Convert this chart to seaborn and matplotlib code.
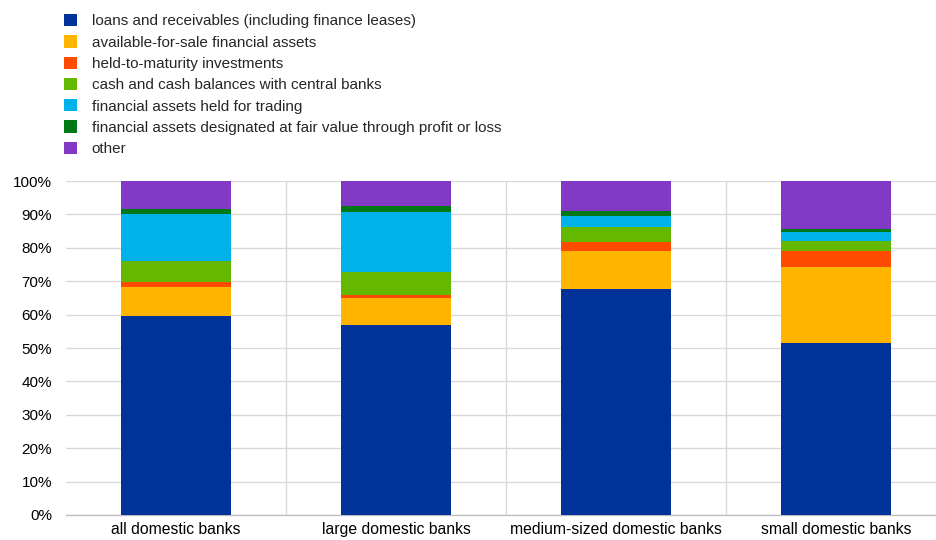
import matplotlib
matplotlib.use("Agg")
import matplotlib.pyplot as plt
from matplotlib.patches import Patch
from matplotlib.ticker import FixedLocator
import numpy as np
import seaborn as sns

categories = ["all domestic banks", "large domestic banks",
              "medium-sized domestic banks", "small domestic banks"]

series_names = [
    "loans and receivables (including finance leases)",
    "available-for-sale financial assets",
    "held-to-maturity investments",
    "cash and cash balances with central banks",
    "financial assets held for trading",
    "financial assets designated at fair value through profit or loss",
    "other",
]

loans = [59.6, 56.8, 67.8, 51.5]
available_for_sale = [8.8, 8.2, 11.2, 22.8]
held_to_maturity = [1.4, 0.8, 2.7, 4.7]
cash_balances = [6.1, 6.9, 4.4, 3.1]
held_for_trading = [14.3, 17.9, 3.5, 2.6]
fair_value = [1.5, 1.9, 1.5, 1.0]
other = [8.3, 7.5, 8.9, 14.3]

series_values = [loans, available_for_sale, held_to_maturity, cash_balances,
                 held_for_trading, fair_value, other]

colors = ["#003299", "#FFB400", "#FF4B00", "#65B800",
          "#00B1EA", "#007816", "#8139C6"]

yticks = [0, 10, 20, 30, 40, 50, 60, 70, 80, 90, 100]
ytick_labels = [f"{v}%" for v in yticks]

sns.set_theme(style="white")
plt.rcParams["font.family"] = ["Liberation Sans", "DejaVu Sans"]

fig = plt.figure(figsize=(9.36, 5.4), dpi=100)
ax = fig.add_axes([66 / 936, 25 / 540, 880 / 936, 334 / 540])

bottom = np.zeros(len(categories))
for name, vals, col in zip(series_names, series_values, colors):
    sns.barplot(x=categories, y=vals, bottom=bottom, color=col,
                width=0.5, ax=ax, saturation=1, linewidth=0, zorder=3)
    bottom = bottom + np.array(vals)

ax.set_xlim(-0.5, 3.5)
ax.set_ylim(0, 100)
ax.set_yticks(yticks)
ax.set_yticklabels(ytick_labels)
ax.xaxis.set_minor_locator(FixedLocator([0.5, 1.5, 2.5]))

grid_col = "#d9d9d9"
ax.grid(axis="y", which="major", color=grid_col, lw=1.0, zorder=0)
ax.grid(axis="x", which="minor", color=grid_col, lw=1.0, zorder=0)
ax.grid(axis="x", which="major", visible=False)

for s in ["top", "right", "left"]:
    ax.spines[s].set_visible(False)
ax.spines["bottom"].set_color("#bfbfbf")
ax.spines["bottom"].set_linewidth(1.0)

ax.tick_params(axis="y", length=0, pad=10, labelsize=11, labelcolor="#000000")
ax.tick_params(axis="x", which="both", length=0, pad=5, labelsize=11.3,
               labelcolor="#000000")
ax.set_xlabel("")
ax.set_ylabel("")

handles = [Patch(facecolor=c, edgecolor="none") for c in colors]
fig.legend(handles, series_names, loc="upper left",
           bbox_to_anchor=(58 / 936, 1 - 8 / 540), frameon=False,
           fontsize=11, handlelength=0.85, handleheight=0.85,
           handletextpad=0.95, labelspacing=0.45, borderaxespad=0)

fig.savefig("out.png", dpi=100)
